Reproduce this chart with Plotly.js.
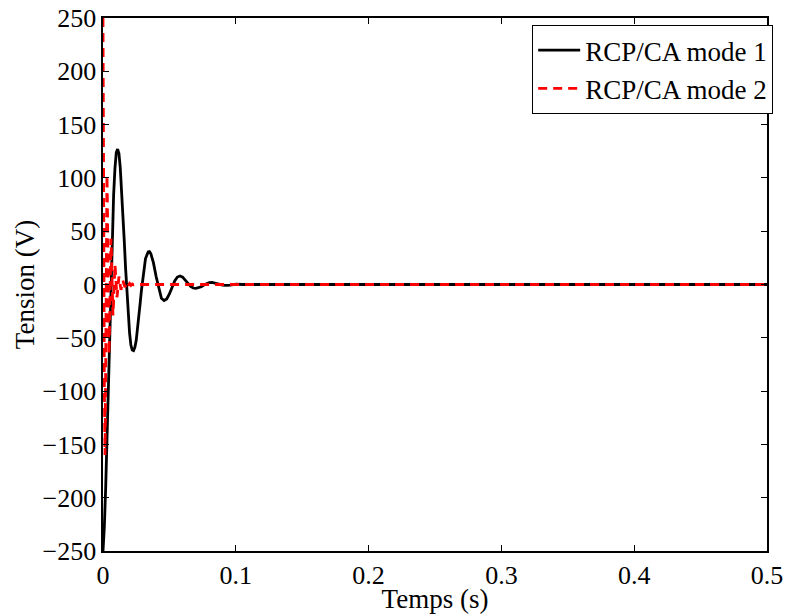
<!DOCTYPE html>
<html>
<head>
<meta charset="utf-8">
<script src="https://cdn.plot.ly/plotly-3.0.1.min.js"></script>
<style>html,body{margin:0;padding:0;background:#fff;}#chart{width:798px;height:614px;}</style>
</head>
<body>
<div id="chart"></div>
<script>
// Mode 1 (black, solid)
const t1 = [0,0.001,0.002,0.003,0.004,0.005,0.006,0.007,0.008,0.009,0.010,0.011,0.012,0.013,0.014,0.015,0.016,0.017,0.018,0.019,0.020,0.021,0.022,0.023,0.024,0.025,0.026,0.027,0.028,0.029,0.030,0.032,0.034,0.035,0.036,0.038,0.040,0.042,0.044,0.046,0.048,0.050,0.052,0.054,0.056,0.058,0.060,0.062,0.064,0.066,0.068,0.070,0.072,0.074,0.076,0.078,0.080,0.082,0.084,0.086,0.088,0.090,0.093,0.096,0.100,0.105,0.15,0.2,0.3,0.4,0.5];
const v1 = [-250,-227.3,-191.2,-145.6,-94.9,-43.1,5.9,49.0,83.9,109.0,123.8,127.0,122.9,109.6,90.1,66.6,41.1,15.4,-8.7,-29.3,-45.3,-56.8,-61.5,-62.0,-59.0,-52.6,-42.2,-30.1,-17.4,-4.9,6.7,24.3,30.5,30.8,29.0,20.3,7.5,-4.4,-12.9,-15.0,-13.5,-8.9,-2.3,3.4,7.0,8.0,6.9,4.4,1.1,-1.7,-3.3,-3.6,-3.0,-2.1,-0.5,1.0,1.8,2.0,1.6,0.9,0.2,-0.5,-0.9,-0.5,0.3,0,0,0,0,0,0];

// Mode 2 (red, dashed)
const t2 = [0,0.00025,0.0005,0.00075,0.001,0.00125,0.0015,0.00175,0.002,0.00225,0.0025,0.00275,0.003,0.00325,0.0035,0.00375,0.004,0.00425,0.0045,0.00475,0.005,0.00525,0.0055,0.00575,0.006,0.00625,0.0065,0.00675,0.007,0.00725,0.0075,0.00775,0.008,0.00825,0.0085,0.00875,0.009,0.00925,0.0095,0.00975,0.010,0.01025,0.0105,0.01075,0.011,0.01125,0.0115,0.01175,0.012,0.0125,0.013,0.0135,0.014,0.0145,0.015,0.0155,0.016,0.0165,0.017,0.0175,0.018,0.019,0.020,0.021,0.022,0.023,0.025,0.05,0.1,0.2,0.3,0.4,0.5];
const v2 = [250,201.0,107.7,0,-92.8,-149.3,-160.0,-128.6,-68.9,0,59.4,95.5,102.4,82.3,44.1,0,-38.0,-61.1,-65.5,-52.7,-28.2,0,24.3,39.1,43.0,35.0,19.0,0,-17.0,-27.0,-29.0,-23.0,-12.5,0,11.0,17.5,18.5,15.0,8.0,0,-7.0,-11.0,-12.0,-9.5,-5.0,0,4.5,7.0,7.5,3.5,-3.0,-5.0,-2.2,2.0,3.5,1.5,-1.5,-2.5,-1.0,1.0,1.8,-1.0,1.0,-0.8,0.5,-0.3,0,0,0,0,0,0,0];

const seriesNames = ["RCP/CA mode 1","RCP/CA mode 2"];
const xTicks = [0,0.1,0.2,0.3,0.4,0.5];
const yTicks = [-250,-200,-150,-100,-50,0,50,100,150,200,250];

const fam = "Liberation Serif, Times New Roman, serif";
const font = {family: fam, size: 26, color: "#000"};
const titleFont = {family: fam, size: 27, color: "#000"};
const legendFont = {family: fam, size: 27, color: "#000"};

const traces = [
  {x: t1, y: v1, name: seriesNames[0], type: "scatter", mode: "lines",
   line: {color: "#000000", width: 2.8}},
  {x: t2, y: v2, name: seriesNames[1], type: "scatter", mode: "lines",
   line: {color: "#ff0000", width: 2.8, dash: "9px,6px"}}
];

const axisCommon = {
  showgrid: false, zeroline: false, showline: true, mirror: "ticks",
  linecolor: "#000", linewidth: 1.6, ticks: "inside", ticklen: 6, tickwidth: 1,
  tickcolor: "#000", tickfont: font
};

const layout = {
  width: 798, height: 614,
  margin: {l: 103, r: 31, t: 18, b: 63},
  paper_bgcolor: "#fff", plot_bgcolor: "#fff",
  font: font,
  showlegend: true,
  legend: {x: 1.009, y: 0.987, xanchor: "right", yanchor: "top",
           bordercolor: "#000", borderwidth: 1.2, bgcolor: "#fff",
           font: legendFont, tracegroupgap: 0, itemwidth: 42},
  xaxis: Object.assign({}, axisCommon, {
    range: [0, 0.5], tickvals: xTicks, ticktext: xTicks.map(String),
    title: {text: "Temps (s)", font: titleFont, standoff: 0}
  }),
  yaxis: Object.assign({}, axisCommon, {
    range: [-250, 250], tickvals: yTicks,
    ticktext: yTicks.map(v => v < 0 ? "\u2212" + Math.abs(v) : String(v)),
    title: {text: "Tension (V)", font: titleFont, standoff: 0}
  })
};

Plotly.newPlot("chart", traces, layout, {staticPlot: true, displayModeBar: false});
</script>
</body>
</html>
